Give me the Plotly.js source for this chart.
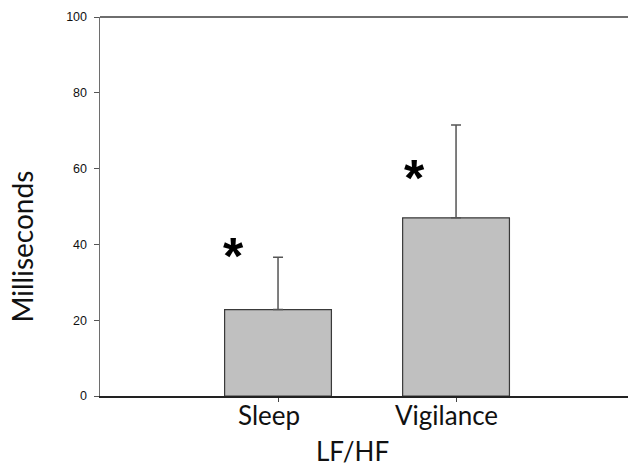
<!DOCTYPE html>
<html>
<head>
<meta charset="utf-8">
<script src="https://cdn.plot.ly/plotly-3.0.1.min.js"></script>
<style>
  html, body { margin: 0; padding: 0; background: #fff; }
  #chart { width: 628px; height: 466px; }
</style>
</head>
<body>
<div id="chart"></div>
<script>
// LF/HF ratio by state, mean with upper SD
const categories = ["Sleep", "Vigilance"];
const means = [22.8, 47.0];
const upperErr = [13.8, 24.5];
const significant = [true, true];

const labelFont = "Lato, 'Open Sans', sans-serif";

const xIdx = categories.map((_, i) => i);

const bars = {
  type: "bar",
  x: xIdx,
  y: means,
  width: 0.6,
  marker: { color: "#c0c0c0", line: { color: "#3a3a3a", width: 1.2 } },
  error_y: {
    type: "data",
    symmetric: false,
    array: upperErr,
    arrayminus: means.map(() => 0),
    color: "#555555",
    thickness: 1.5,
    width: 5
  },
  hoverinfo: "skip"
};

// category names under the ticks, nudged slightly left
const catLabels = categories.map((c, i) => ({
  x: i, y: 0, xref: "x", yref: "y",
  xshift: -9.5, yshift: -1, yanchor: "top",
  text: c, showarrow: false,
  font: { family: labelFont, size: 26, color: "#111" }
}));

// significance markers to the upper left of each bar
const starY = [38.7, 59.3];
const starShift = [-45, -42];
const stars = categories.map((c, i) => significant[i] ? {
  x: i, y: starY[i], xref: "x", yref: "y",
  xshift: starShift[i], yshift: -7,
  text: "<b>*</b>", showarrow: false,
  font: { family: "Arial, sans-serif", size: 52, color: "#000" }
} : null).filter(Boolean);

const layout = {
  width: 628, height: 466,
  margin: { l: 100, r: 0, t: 17, b: 70 },
  paper_bgcolor: "#fff", plot_bgcolor: "#fff",
  showlegend: false,
  bargap: 0,
  xaxis: {
    range: [-1, 1.966],
    tickmode: "array",
    tickvals: xIdx,
    showticklabels: false,
    ticks: "outside", ticklen: 4, tickwidth: 1, tickcolor: "#444",
    showline: true, linecolor: "#222", linewidth: 2,
    showgrid: false, zeroline: false, fixedrange: true
  },
  yaxis: {
    range: [0, 100],
    tickvals: [0, 20, 40, 60, 80, 100],
    ticks: "outside", ticklen: 5, tickwidth: 1, tickcolor: "#555",
    ticklabelstandoff: 4,
    tickfont: { family: "Arial, 'Liberation Sans', sans-serif", size: 12.5, color: "#111" },
    showline: true, linecolor: "#6e6e6e", linewidth: 1.5,
    showgrid: false, zeroline: false, fixedrange: true
  },
  shapes: [
    { type: "line", xref: "paper", yref: "paper", x0: 0, x1: 1, y0: 1, y1: 1,
      line: { color: "#6e6e6e", width: 2 } }
  ],
  annotations: [
    { text: "LF/HF", xref: "paper", yref: "paper", x: 0.479, y: 0,
      yshift: -37, yanchor: "top", showarrow: false,
      font: { family: labelFont, size: 26, color: "#111" } },
    { text: "Milliseconds", xref: "paper", yref: "paper", x: 0, y: 0.5,
      xanchor: "center", xshift: -79, yshift: -40, textangle: -90, showarrow: false,
      font: { family: labelFont, size: 28, color: "#111" } }
  ].concat(catLabels, stars)
};

Plotly.newPlot("chart", [bars], layout, { displayModeBar: false, staticPlot: true });
</script>
</body>
</html>
